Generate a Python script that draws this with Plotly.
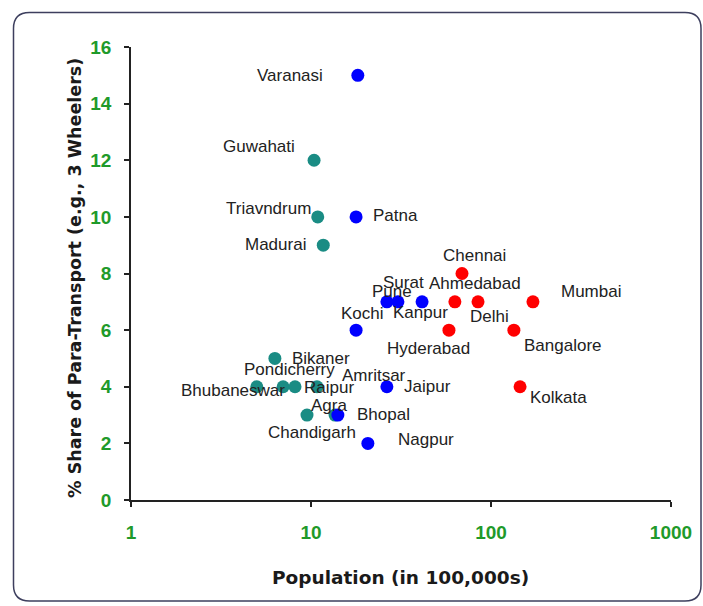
import numpy as np
import plotly.graph_objects as go

# ---- data ----
blue_cities = ["Varanasi", "Patna", "Kochi", "Pune", "Surat", "Kanpur", "Jaipur", "Bhopal", "Nagpur"]
blue_pop = [18.2, 17.8, 17.8, 26.4, 30.4, 41.4, 26.4, 14.1, 20.7]
blue_share = [15, 10, 6, 7, 7, 7, 4, 3, 2]

red_cities = ["Chennai", "Ahmedabad", "Delhi", "Mumbai", "Hyderabad", "Bangalore", "Kolkata"]
red_pop = [69, 63, 84.7, 171, 58.4, 134, 145]
red_share = [8, 7, 7, 7, 6, 6, 4]

teal_cities = ["Guwahati", "Triavndrum", "Madurai", "Bikaner", "Bhubaneswar", "Pondicherry",
               "Raipur", "Amritsar", "Chandigarh", "Agra"]
teal_pop = [10.4, 10.9, 11.7, 6.3, 5.0, 7.0, 8.15, 10.8, 9.5, 13.6]
teal_share = [12, 10, 9, 5, 4, 4, 4, 4, 3, 3]

x_ticks = [1, 10, 100, 1000]
y_ticks = [0, 2, 4, 6, 8, 10, 12, 14, 16]

# label placement (xanchor, xshift px, yshift px)
label_pos = {
    "Varanasi": ("right", -33, 0), "Patna": ("left", 15, 1), "Kochi": ("center", 6, 17),
    "Pune": ("center", 5, 10), "Surat": ("center", 6, 19), "Kanpur": ("center", -2, -11),
    "Jaipur": ("left", 15, 0), "Bhopal": ("left", 17, 1), "Nagpur": ("left", 28, 4),
    "Chennai": ("center", 13, 18), "Ahmedabad": ("center", 20, 18), "Delhi": ("center", 11, -15),
    "Mumbai": ("left", 26, 10), "Hyderabad": ("center", -20, -18), "Bangalore": ("left", 8, -15),
    "Kolkata": ("left", 8, -11), "Guwahati": ("right", -17, 14), "Triavndrum": ("right", -5, 8),
    "Madurai": ("right", -15, 1), "Bikaner": ("left", 15, 0), "Bhubaneswar": ("right", 30, -4),
    "Pondicherry": ("center", 6, 17), "Raipur": ("left", 7, -1), "Amritsar": ("left", 23, 11),
    "Chandigarh": ("center", 5, -17), "Agra": ("center", -6, 10),
}

fig = go.Figure()
marker_size = 13
fig.add_trace(go.Scatter(x=teal_pop, y=teal_share, mode="markers",
                         marker=dict(color="#1a8c84", size=marker_size), hoverinfo="skip"))
fig.add_trace(go.Scatter(x=blue_pop, y=blue_share, mode="markers",
                         marker=dict(color="#0000ff", size=marker_size), hoverinfo="skip"))
fig.add_trace(go.Scatter(x=red_pop, y=red_share, mode="markers",
                         marker=dict(color="#ff0000", size=marker_size), hoverinfo="skip"))

annotations = []
for names, xs, ys in [(blue_cities, blue_pop, blue_share), (red_cities, red_pop, red_share),
                      (teal_cities, teal_pop, teal_share)]:
    for n, xv, yv in zip(names, xs, ys):
        anc, dx, dy = label_pos[n]
        annotations.append(dict(x=np.log10(xv), y=yv, xref="x", yref="y", text=n, showarrow=False,
                                xanchor=anc, yanchor="middle", xshift=dx, yshift=dy,
                                font=dict(family="Liberation Sans, Arial", size=17, color="#222222")))

L, R, T, B = 131, 32, 47, 106
W, H = 703, 606
pw, ph = W - L - R, H - T - B


def px(xp):
    return (xp - L) / pw


def py(yp):
    return (H - B - yp) / ph


annotations.append(dict(x=px(75), y=py(278), xref="paper", yref="paper", textangle=-90,
                        text="% Share of Para-Transport (e.g., 3 Wheelers)", showarrow=False,
                        xanchor="center", yanchor="middle",
                        font=dict(family="DejaVu Sans", size=17.5, color="#1a1a1a", weight="bold")))
annotations.append(dict(x=px(400), y=py(577), xref="paper", yref="paper",
                        text="Population (in 100,000s)", showarrow=False,
                        xanchor="center", yanchor="middle",
                        font=dict(family="DejaVu Sans", size=18.5, color="#1a1a1a", weight="bold")))

# rounded border
x0, x1, y0, y1 = px(13.5), px(701), py(601), py(12.5)
rx, ry = 16 / pw, 16 / ph
path = (f"M {x0+rx},{y1} L {x1-rx},{y1} Q {x1},{y1} {x1},{y1-ry} L {x1},{y0+ry} "
        f"Q {x1},{y0} {x1-rx},{y0} L {x0+rx},{y0} Q {x0},{y0} {x0},{y0+ry} "
        f"L {x0},{y1-ry} Q {x0},{y1} {x0+rx},{y1} Z")

fig.update_layout(
    width=W, height=H,
    margin=dict(l=L, r=R, t=T, b=B),
    paper_bgcolor="white", plot_bgcolor="white",
    showlegend=False,
    annotations=annotations,
    shapes=[dict(type="path", path=path, xref="paper", yref="paper",
                 line=dict(color="#3d3f5e", width=1.5), layer="below")],
)
tickfont = dict(family="Liberation Sans, Arial", size=19, color="#1f9a2a", weight="bold")
fig.update_xaxes(type="log", range=[0, 3], tickvals=x_ticks, ticktext=[str(v) for v in x_ticks],
                 showgrid=False, zeroline=False, showline=True, linecolor="#222", linewidth=1.5,
                 ticks="outside", ticklen=5, tickcolor="#222", tickwidth=1.5,
                 tickfont=tickfont, ticklabelstandoff=9)
fig.update_yaxes(range=[0, 16], tickvals=y_ticks, showgrid=False, zeroline=False,
                 showline=True, linecolor="#222", linewidth=1.5,
                 ticks="outside", ticklen=5, tickcolor="#222", tickwidth=1.5,
                 tickfont=tickfont, ticklabelstandoff=9)

fig.write_html("out.html", config={"displayModeBar": False},
               post_script="document.body.style.margin='0';")
